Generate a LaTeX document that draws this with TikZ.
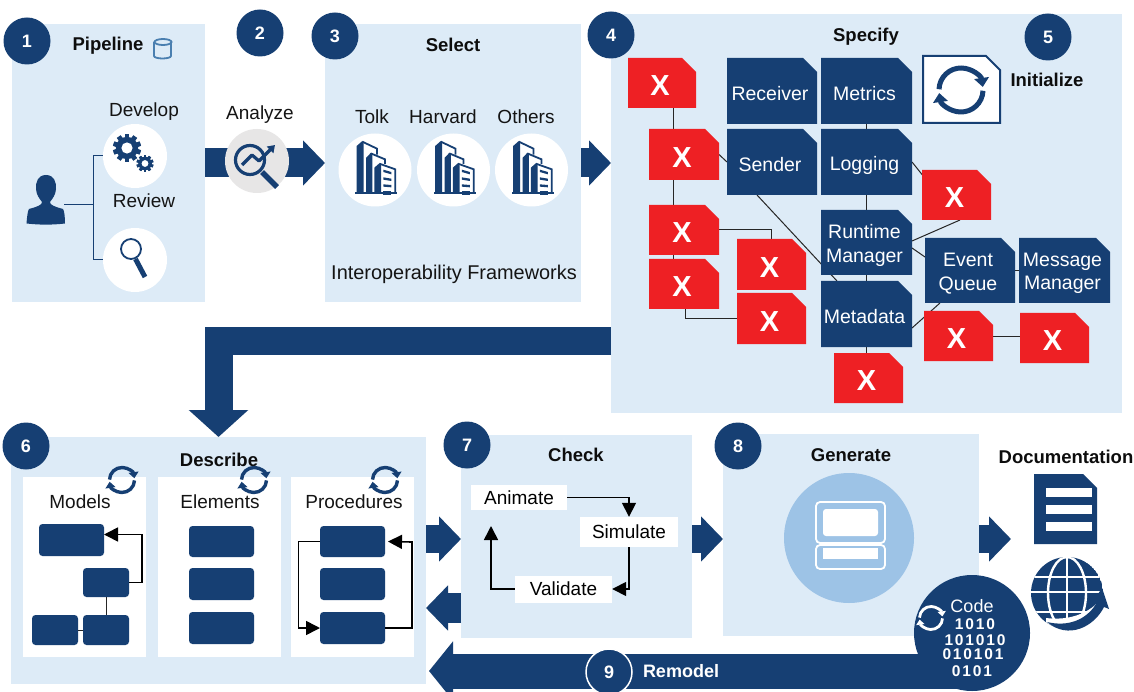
\documentclass[tikz,border=0pt]{standalone}
\usepackage{fontspec}
\setmainfont{Liberation Sans}
\usetikzlibrary{arrows.meta,shapes.misc,calc}
\pgfdeclarelayer{back}
\pgfdeclarelayer{links}
\pgfsetlayers{back,links,main}
\definecolor{navy}{HTML}{163F73}
\definecolor{pale}{HTML}{DDEBF7}
\definecolor{redx}{HTML}{EE2024}
\definecolor{midb}{HTML}{9DC3E6}
\definecolor{cylb}{HTML}{4A7FB0}
\definecolor{grayc}{HTML}{E7E6E6}
\newcommand{\fsz}[1]{\fontsize{#1}{#1}\selectfont}
\tikzset{
  x=1pt,y=-1pt,
  panel/.style={fill=pale,draw=none},
  card/.style={fill=white,draw=none},
  title/.style={font=\fsz{18.5}\bfseries,text=black!95,inner sep=0pt},
  lab/.style={font=\fsz{19},text=black!92,inner sep=0pt},
  badge/.style={circle,fill=navy,draw=none,minimum size=47pt,inner sep=0pt,text=white,font=\fsz{18}\bfseries},
  whitedot/.style={circle,fill=white,draw=none,inner sep=0pt},
  bigarrow/.style={draw=navy,line width=28pt,-{Triangle[length=22pt,width=44pt]}},
  thin link/.style={draw=black!85,line width=1pt},
  blink/.style={draw=navy,line width=1pt},
  flow/.style={draw=black,line width=1.6pt,-{Triangle[length=14pt,width=14pt]}},
  bluedoc/.style={fill=navy,text=white,font=\fsz{19.5}},
  reddoc/.style={fill=redx,text=white,font=\fsz{29}\bfseries},
  rbox/.style={fill=navy,rounded corners=3.5pt},
  wlabel/.style={fill=white,inner sep=0pt,font=\fsz{19}},
  binary/.style={font=\fsz{15.5}\bfseries\addfontfeature{LetterSpace=12},text=white,inner sep=0pt},
}
% name, x1,y1,x2,y2, style, text : rectangular node from its corners
\newcommand{\boxn}[7]{\node[#6,inner sep=0pt,outer sep=0pt,minimum width={(#4-#2)*1pt},minimum height={(#5-#3)*1pt},align=center] (#1) at ({(#2+#4)/2},{(#3+#5)/2}) {#7};}
% same, with a cut corner; its text sits in a node of its own
\newcommand{\docn}[7]{\node[chamfered rectangle,chamfered rectangle corners=north east,chamfered rectangle xsep=7pt,chamfered rectangle ysep=7pt,#6,inner sep=0pt,outer sep=0pt,minimum width={(#4-#2)*1pt},minimum height={(#5-#3)*1pt}] (#1) at ({(#2+#4)/2},{(#3+#5)/2}) {\phantom{\rule{30pt}{30pt}}};
  \node[#6,fill=none,draw=none,inner sep=0pt,align=center] (#1t) at ($(#1.center)+(-2,3)$) {#7};}
% two-arc cycle icon: cx,cy,r,colour,width
\newcommand{\cycleicon}[5]{%
  \begin{scope}[shift={(#1,#2)}]
  \draw[draw=#4,line width=#5pt,-{Triangle[length={1.8*#5pt},width={2.9*#5pt}]}] (-178:#3) arc[start angle=-178,end angle=-8,radius=#3];
  \draw[draw=#4,line width=#5pt,-{Triangle[length={1.8*#5pt},width={2.9*#5pt}]}] (2:#3) arc[start angle=2,end angle=172,radius=#3];
  \end{scope}}
% building icon, drawn in zoomed coordinates around the circle centre
\newcommand{\buildicon}[2]{%
  \begin{scope}[shift={(#1,#2)},x=0.3333pt,y=-0.3333pt,shift={(-165,-270)}]
  \fill[navy] (110,338)--(110,198)--(127,183)--(131,190)--(131,338)--cycle;
  \draw[navy,line width=1.8pt] (127,185)--(171,206)--(171,224);
  \fill[navy] (138,338)--(138,234)--(152,219)--(157,225)--(157,338)--cycle;
  \draw[navy,line width=1.8pt] (152,220)--(195,238)--(195,252);
  \fill[navy] (163,338)--(163,263)--(178,250)--(183,256)--(183,338)--cycle;
  \draw[navy,line width=1.8pt] (178,251)--(226,268)--(226,338);
  \fill[navy] (190,269)--(214,276)--(214,283)--(190,276)--cycle;
  \fill[navy] (190,292)--(214,296)--(214,303)--(190,299)--cycle;
  \fill[navy] (190,313)--(214,315)--(214,322)--(190,320)--cycle;
  \fill[navy] (105,336) rectangle (231,342);
  \fill[navy] (189,332) rectangle (213,345);
  \end{scope}}
\newcommand{\gearicon}[3]{%
  \begin{scope}[shift={(#1,#2)}]
  \foreach \a in {0,36,...,324}{\fill[navy,rotate=\a] (-0.16*#3,-#3) rectangle (0.16*#3,#3);}
  \fill[navy] (0,0) circle[radius=0.8*#3];
  \fill[white] (0,0) circle[radius=0.4*#3];
  \end{scope}}
\begin{document}
\begin{tikzpicture}
\useasboundingbox (0,0) rectangle (1134,692);
\begin{pgfonlayer}{back}
\fill[white] (0,0) rectangle (1134,692);
% panels
\boxn{p1}{12}{24}{205}{302}{panel}{}
\boxn{p3}{325}{24}{581}{302}{panel}{}
\boxn{p4}{611}{14}{1122}{413}{panel}{}
\boxn{p6}{11}{437}{426}{684}{panel}{}
\boxn{p7}{461}{435}{692}{638}{panel}{}
\boxn{p8}{723}{434}{979}{636}{panel}{}
% block arrows
\coordinate (lstart) at (611,341);
\coordinate (in76) at (461,539);
\coordinate (out76) at (461,608);
\coordinate (to76) at (426,608);
\coordinate (in67) at (426,539);
\coordinate (out78) at (692,539);
\coordinate (to78) at (723,539);
\coordinate (out8d) at (979,539);
\coordinate (tod) at (1011,539);
\coordinate (remtip) at (429,671);
\coordinate (remstart) at (960,671);
\draw[bigarrow,line width=29pt] (p1.east) -- (p3.west);
\draw[bigarrow,line width=29pt] (p3.east) -- (p3.east -| p4.west);
\draw[bigarrow,line width=28pt,-{Triangle[length=27pt,width=58pt]},line join=miter] (lstart) -| (p6.north);
\draw[bigarrow] (in67) -- (in76);
\draw[bigarrow,line width=30pt] (out76) -- (to76);
\draw[bigarrow] (out78) -- (to78);
\draw[bigarrow] (out8d) -- (tod);
\draw[bigarrow,line width=35pt,-{Triangle[length=24pt,width=58pt]}] (remstart) -- (remtip);
\end{pgfonlayer}
% titles
\node[title] (tPipe) at (108,46) {Pipeline};
\node[title] (tSel) at (453,45) {Select};
\node[title] (tSpec) at (866,37) {Specify};
\node[title] (tInit) at (1047,80) {Initialize};
\node[title] (tDesc) at (219,460) {Describe};
\node[title] (tChk) at (576,455) {Check};
\node[title] (tGen) at (851,455) {Generate};
\node[title] (tDoc) at (1066,457) {Documentation};
% panel 1
\draw[cylb,line width=1.8pt] (154,42) -- (154,56) arc[start angle=180,end angle=0,x radius=8.5,y radius=2.5] -- (171,42);
\draw[cylb,line width=1.8pt] (163,42) ellipse[x radius=8.5,y radius=3];
\node[lab] (tDev) at (144,112) {Develop};
\node[lab] (tRev) at (144,201) {Review};
\node[whitedot,minimum size=64pt] (dev) at (135,156) {};
\node[whitedot,minimum size=64pt] (rev) at (135,260) {};
\node[inner sep=0pt,minimum width=38pt,minimum height=50pt] (person) at (46,199.5) {};
\coordinate (brk) at (93.5,205);
\draw[blink] (person.east |- brk) ++(-1,0) -- (brk);
\draw[blink] (dev.west) -| (brk) |- (rev.west);
\fill[navy] (46,175) .. controls (38,175) and (35.5,182) .. (36,189) .. controls (36.5,195) and (39,198) .. (42,202)
  .. controls (42,205) and (38,206.5) .. (29,209) .. controls (27.5,211) and (27,218) .. (26.5,223.5)
  .. controls (40,225) and (52,225) .. (65,223.5) .. controls (65,218) and (64.5,211) .. (63,209)
  .. controls (54,206.5) and (50,205) .. (50,202) .. controls (53,198) and (55.5,195) .. (56,189) .. controls (56.5,182) and (54,175) .. (46,175) -- cycle;
\gearicon{127}{148}{14}
\gearicon{145}{163.5}{8.5}
\draw[navy,line width=1.8pt] (131,249) circle[radius=10];
\draw[navy,line width=5pt] (135.5,259) -- (145,277);
% analyze
\node[lab] (tAna) at (260,115) {Analyze};
\node[circle,fill=grayc,inner sep=0pt,minimum size=64pt] (ana) at (257,161) {};
\draw[navy,line width=3.2pt] (250,160) circle[radius=14.5];
\draw[navy,line width=5.5pt] (262,172) -- (277,187);
\draw[navy,line width=3.2pt,-{Triangle[length=7pt,width=9pt]},line join=round] (242,165) -- (252,155) -- (259,161) -- (275,145);
% panel 3
\node[lab] (tTolk) at (372,117) {Tolk};
\node[lab] (tHarv) at (443,117) {Harvard};
\node[lab] (tOth) at (526,117) {Others};
\node[whitedot,minimum size=73pt] (b1) at (375,170) {};
\node[whitedot,minimum size=73pt] (b2) at (453.5,170) {};
\node[whitedot,minimum size=73pt] (b3) at (531.5,170) {};
\buildicon{375}{170}
\buildicon{453.5}{170}
\buildicon{531.5}{170}
\node[lab,font=\fsz{19.9}] (tInter) at (454,274) {Interoperability Frameworks};
% specify nodes
\docn{xa}{628}{58}{696}{108}{reddoc}{X}
\docn{xb}{649}{129}{719}{180}{reddoc}{X}
\docn{xc}{649}{205}{719}{255}{reddoc}{X}
\docn{xd}{649}{259}{719}{309}{reddoc}{X}
\docn{xe}{737}{239}{806}{290}{reddoc}{X}
\docn{xf}{737}{293}{806}{344}{reddoc}{X}
\docn{xg}{922}{170}{991}{220}{reddoc}{X}
\docn{xh}{924}{311}{993}{361}{reddoc}{X}
\docn{xi}{1020}{313}{1089}{363}{reddoc}{X}
\docn{xj}{834}{353}{903}{403}{reddoc}{X}
\docn{receiver}{727}{58}{817}{124}{bluedoc}{Receiver}
\docn{metrics}{821}{58}{912}{124}{bluedoc}{Metrics}
\docn{sender}{727}{129}{817}{195}{bluedoc}{Sender}
\docn{logging}{821}{129}{912}{195}{bluedoc}{Logging}
\docn{runtime}{821}{210}{912}{275}{bluedoc}{Runtime\\[5pt]Manager}
\docn{metadata}{821}{281}{912}{347}{bluedoc}{Metadata}
\docn{event}{925}{238}{1015}{303}{bluedoc}{Event\\[4pt]Queue}
\docn{message}{1019}{238}{1110}{303}{bluedoc}{Message\\[4pt]Manager}
\docn{init}{923}{56}{1000}{123}{fill=white,draw=navy,line width=2pt}{}
\cycleicon{961}{90}{22}{navy}{5}
% connectors in Specify, behind the nodes
\begin{pgfonlayer}{links}
\draw[thin link] (xa.south -| 673,0) -- (xb.north -| 673,0);
\draw[thin link] (xb.south -| 673,0) -- (xc.north -| 673,0);
\draw[thin link] (xc.south -| 673,0) -- (xd.north -| 673,0);
\draw[thin link] (xb.east) -- (sender.west);
\draw[thin link] (metrics.south) -- (logging.north);
\draw[thin link] (logging.south) -- (runtime.north);
\draw[thin link] (runtime.south) -- (metadata.north);
\draw[thin link] (metadata.south) -- (xj.north -| metadata.south);
\draw[thin link] (xc.east) -| (xe.north);
\draw[thin link] (xd.south -| 685,0) |- (xf.west);
\draw[thin link] (logging.east) -- ($(xg.north west)+(2,7)$);
\draw[thin link] (xg.south -| 960,0) -- (runtime.east |- 0,241);
\draw[thin link] (runtime.east |- 0,248) -- (event.west |- 0,257);
\draw[thin link] (event.east) -- (message.west);
\draw[thin link] (metadata.east |- 0,328) -- (event.south -| 940,0);
\draw[thin link] (xh.east) -- (xh.east -| xi.west);
\draw[thin link] ($(sender.south west)+(30,0)$) -- ($(metadata.north west)+(16,0)$);
\end{pgfonlayer}
% badges
\node[badge] (n1) at (27,41) {1};
\node[badge] (n2) at (260,33) {2};
\node[badge] (n3) at (335,36) {3};
\node[badge] (n4) at (611,35) {4};
\node[badge] (n5) at (1048,37) {5};
\node[badge] (n6) at (26,446) {6};
\node[badge] (n7) at (467,445) {7};
\node[badge] (n8) at (738,446) {8};
% describe cards
\boxn{c1}{23}{477}{146}{657}{card}{}
\boxn{c2}{158}{477}{281}{657}{card}{}
\boxn{c3}{291}{477}{414}{657}{card}{}
\cycleicon{122}{480}{12.5}{navy}{3.4}
\cycleicon{254}{480}{12.5}{navy}{3.4}
\cycleicon{385}{480}{12.5}{navy}{3.4}
\node[lab] (tMod) at (80,502) {Models};
\node[lab] (tEle) at (220,502) {Elements};
\node[lab] (tPro) at (354,502) {Procedures};
\boxn{ma}{39}{524}{104}{556}{rbox}{}
\boxn{mb}{83}{568}{129}{597}{rbox}{}
\boxn{mc}{32}{615}{78}{645}{rbox}{}
\boxn{md}{83}{615}{129}{645}{rbox}{}
\boxn{ea}{189}{526}{254}{557}{rbox}{}
\boxn{eb}{189}{568}{254}{600}{rbox}{}
\boxn{ec}{189}{612}{254}{644}{rbox}{}
\boxn{pa}{320}{526}{385}{557}{rbox}{}
\boxn{pb}{320}{568}{385}{600}{rbox}{}
\boxn{pc}{320}{612}{385}{644}{rbox}{}
\draw[flow] (mb.east) -| (142,534.5) -- (ma.east |- 0,534.5);
\draw[thin link] (mb.south) -- (md.north);
\draw[thin link] (mc.east) -- (md.west);
\draw[flow] (pa.west) -| (298.5,628) -- (pc.west);
\draw[flow,shorten >=3pt] (pc.east) -| (412,542) -- (pa.east);
% check
\node[wlabel,minimum width=96pt,minimum height=25pt] (animate) at (519,497.5) {Animate};
\node[wlabel,minimum width=98pt,minimum height=30pt] (simulate) at (629,532) {Simulate};
\node[wlabel,minimum width=97pt,minimum height=27pt] (validate) at (563.5,589) {Validate};
\draw[flow] (animate.east) -| (simulate.north);
\draw[flow] (simulate.south) |- (validate.east);
\draw[flow] (validate.west) -| (491,526);
% generate
\node[circle,fill=midb,inner sep=0pt,minimum size=130pt] (gen) at (849,538) {};
\draw[white,line width=1.8pt,rounded corners=4pt] (816,502) rectangle (885,543);
\fill[white,rounded corners=3pt] (823,509) rectangle (878,536);
\draw[white,line width=1.8pt,rounded corners=4pt] (816,545) rectangle (885,569);
\fill[white] (823,547.5) rectangle (878,559);
% documentation icon
\docn{docicon}{1034}{474}{1097}{544}{fill=navy}{}
\fill[white] (1046,488) rectangle (1092,497);
\fill[white] (1046,505) rectangle (1092,514);
\fill[white] (1046,522) rectangle (1092,531);
% globe
\begin{scope}
\clip (1067,593) circle[radius=36];
\fill[navy] (1067,593) circle[radius=36];
\draw[white,line width=2.4pt] (1067,593) ellipse[x radius=19,y radius=36];
\draw[white,line width=2.4pt] (1067,555) -- (1067,631);
\draw[white,line width=2.4pt] (1030,577) -- (1104,577);
\draw[white,line width=2.4pt] (1030,592) -- (1104,592);
\draw[white,line width=2.4pt] (1030,612) -- (1104,612);
\fill[white] (1104,594) .. controls (1098,606) and (1078,622) .. (1046,618) -- (1046,640) -- (1105,640) -- cycle;
\end{scope}
\fill[navy] (1047,622) .. controls (1068,627) and (1086,620) .. (1096,604) -- (1092,603) -- (1102,588) -- (1109,609) -- (1104,607) .. controls (1094,627) and (1068,640) .. (1047,622) -- cycle;
% code
\node[circle,fill=navy,inner sep=0pt,minimum size=116pt] (code) at (972,633) {};
\cycleicon{931}{618}{11.5}{white}{2.8}
\node[font=\fsz{18},text=white,inner sep=0pt] (tCode) at (972,606) {Code};
\node[binary] (b1l) at (975,624) {1010};
\node[binary] (b2l) at (975,640) {101010};
\node[binary] (b3l) at (973,654) {010101};
\node[binary] (b4l) at (972,671) {0101};
% remodel
\node[badge,draw=white,line width=1.5pt,minimum size=46pt] (n9) at (609,672) {9};
\node[font=\fsz{18}\bfseries,text=white,inner sep=0pt] (tRem) at (681,671) {Remodel};
\end{tikzpicture}
\end{document}
